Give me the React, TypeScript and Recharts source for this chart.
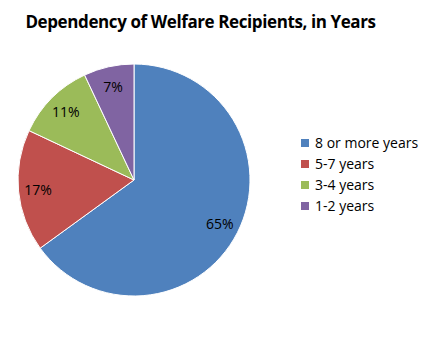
import { PieChart, Pie, Cell, Legend } from 'recharts';

const categories = ['8 or more years', '5-7 years', '3-4 years', '1-2 years'];
const shares = [65, 17, 11, 7];
const colors = ['#4F81BD', '#C0504D', '#9BBB59', '#8064A2'];

const data = categories.map((name, i) => ({ name, value: shares[i] }));

const FONT = '"Open Sans", "Liberation Sans", sans-serif';
const RADIAN = Math.PI / 180;

const renderLabel = ({ cx, cy, midAngle, outerRadius, value }: any) => {
  const r = outerRadius * 0.83;
  const x = cx + r * Math.cos(-midAngle * RADIAN);
  const y = cy + r * Math.sin(-midAngle * RADIAN);
  return (
    <text
      x={x}
      y={y}
      fill="#000"
      textAnchor="middle"
      dominantBaseline="central"
      fontSize={14}
      fontFamily={FONT}
    >
      {`${value}%`}
    </text>
  );
};

// legend in data order, drawn by hand
const renderLegend = () => (
  <div style={{ fontFamily: FONT, fontSize: 14, color: '#000' }}>
    {categories.map((name, i) => (
      <div key={name} style={{ display: 'flex', alignItems: 'center', height: 21 }}>
        <span
          style={{
            display: 'inline-block',
            width: 8,
            height: 8,
            background: colors[i],
            marginRight: 6,
          }}
        />
        <span>{name}</span>
      </div>
    ))}
  </div>
);

export default function App() {
  return (
    <div style={{ position: 'absolute', left: 0, top: 0, width: 440, height: 353, background: '#fff' }}>
      <div
        style={{
          position: 'absolute',
          left: 0,
          top: 10,
          width: 401,
          textAlign: 'center',
          fontFamily: FONT,
          fontWeight: 700,
          fontSize: 17,
          letterSpacing: -0.4,
          color: '#000',
        }}
      >
        Dependency of Welfare Recipients, in Years
      </div>
      <PieChart width={440} height={353} margin={{ top: 0, right: 0, bottom: 0, left: 0 }}>
        <Pie
          data={data}
          dataKey="value"
          nameKey="name"
          cx={134}
          cy={180}
          outerRadius={116}
          startAngle={90}
          endAngle={-270}
          label={renderLabel}
          labelLine={false}
          isAnimationActive={false}
        >
          {data.map((entry, i) => (
            <Cell key={entry.name} fill={colors[i]} stroke="#fff" strokeWidth={1} />
          ))}
        </Pie>
        <Legend
          layout="vertical"
          align="right"
          verticalAlign="top"
          content={renderLegend}
          wrapperStyle={{ left: 301, top: 132, width: 139 }}
        />
      </PieChart>
    </div>
  );
}
